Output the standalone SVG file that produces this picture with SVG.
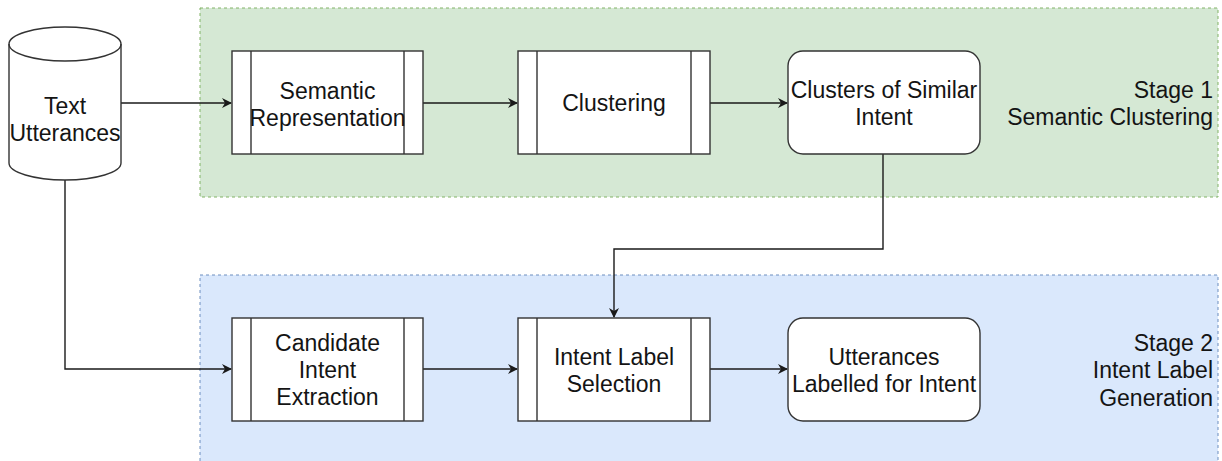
<svg xmlns="http://www.w3.org/2000/svg" width="1222" height="461" viewBox="0 0 1222 461">
  <defs>
    <style>
      .lbl { font-family: "Liberation Sans", Arial, Helvetica, sans-serif; font-size: 23px; fill: #141414; }
      .mid { text-anchor: middle; }
      .end { text-anchor: end; }
      .box { fill: #ffffff; stroke: #333333; stroke-width: 1.4; }
      .bar { stroke: #333333; stroke-width: 1.4; fill: none; }
      .edge { fill: none; stroke: #1a1a1a; stroke-width: 1.4; }
    </style>
    <marker id="arrow" viewBox="0 0 10 10" refX="9" refY="5" markerWidth="10" markerHeight="10" markerUnits="userSpaceOnUse" orient="auto">
      <path d="M0,0 L10,5 L0,10 L3,5 Z" fill="#1a1a1a"/>
    </marker>
  </defs>

  <!-- stage containers -->
  <g id="stage1">
    <rect x="200" y="8" width="1018" height="189" fill="#d5e8d4" stroke="#82b366" stroke-width="1" stroke-dasharray="3 3"/>
    <text class="lbl end" x="1213" y="98">Stage 1</text>
    <text class="lbl end" x="1213" y="125">Semantic Clustering</text>
  </g>
  <g id="stage2">
    <rect x="200" y="275" width="1018" height="200" fill="#dae8fc" stroke="#6c8ebf" stroke-width="1" stroke-dasharray="3 3"/>
    <text class="lbl end" x="1213" y="351">Stage 2</text>
    <text class="lbl end" x="1213" y="378">Intent Label</text>
    <text class="lbl end" x="1213" y="406">Generation</text>
  </g>

  <!-- connectors -->
  <g id="connectors">
    <path class="edge" d="M121,103 H231" marker-end="url(#arrow)"/>
    <path class="edge" d="M423,103 H517" marker-end="url(#arrow)"/>
    <path class="edge" d="M710,103 H787" marker-end="url(#arrow)"/>
    <path class="edge" d="M883,154 V249 H614 V317" marker-end="url(#arrow)"/>
    <path class="edge" d="M65,180 V369 H231" marker-end="url(#arrow)"/>
    <path class="edge" d="M423,369 H517" marker-end="url(#arrow)"/>
    <path class="edge" d="M710,369 H787" marker-end="url(#arrow)"/>
  </g>

  <!-- data store -->
  <g id="text-utterances">
    <path class="box" d="M9,44 A56,17 0 0 1 121,44 V163 A56,17 0 0 1 9,163 Z"/>
    <path class="bar" d="M9,44 A56,17 0 0 0 121,44"/>
    <text class="lbl mid" x="65" y="114">Text</text>
    <text class="lbl mid" x="65" y="141">Utterances</text>
  </g>

  <!-- stage 1 nodes -->
  <g id="semantic-representation">
    <rect class="box" x="232" y="51" width="191" height="103"/>
    <path class="bar" d="M251,51 V154 M404,51 V154"/>
    <text class="lbl mid" x="327.5" y="99">Semantic</text>
    <text class="lbl mid" x="327.5" y="126">Representation</text>
  </g>
  <g id="clustering">
    <rect class="box" x="518" y="51" width="192" height="103"/>
    <path class="bar" d="M537,51 V154 M691,51 V154"/>
    <text class="lbl mid" x="614" y="111">Clustering</text>
  </g>
  <g id="clusters-of-similar-intent">
    <rect class="box" x="788" y="51" width="192" height="103" rx="15" ry="15"/>
    <text class="lbl mid" x="884" y="98">Clusters of Similar</text>
    <text class="lbl mid" x="884" y="125">Intent</text>
  </g>

  <!-- stage 2 nodes -->
  <g id="candidate-intent-extraction">
    <rect class="box" x="232" y="318" width="191" height="103"/>
    <path class="bar" d="M251,318 V421 M404,318 V421"/>
    <text class="lbl mid" x="327.5" y="351">Candidate</text>
    <text class="lbl mid" x="327.5" y="378">Intent</text>
    <text class="lbl mid" x="327.5" y="405">Extraction</text>
  </g>
  <g id="intent-label-selection">
    <rect class="box" x="518" y="318" width="192" height="103"/>
    <path class="bar" d="M537,318 V421 M691,318 V421"/>
    <text class="lbl mid" x="614" y="365">Intent Label</text>
    <text class="lbl mid" x="614" y="392">Selection</text>
  </g>
  <g id="utterances-labelled">
    <rect class="box" x="788" y="318" width="192" height="103" rx="15" ry="15"/>
    <text class="lbl mid" x="884" y="365">Utterances</text>
    <text class="lbl mid" x="884" y="392">Labelled for Intent</text>
  </g>
</svg>
